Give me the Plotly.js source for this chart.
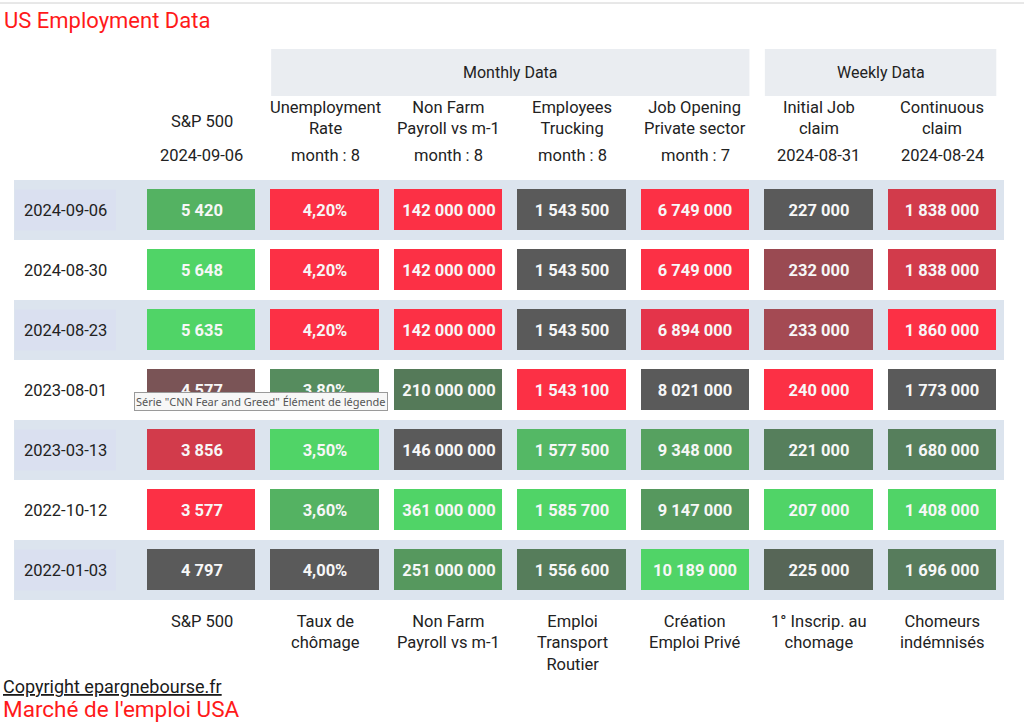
<!DOCTYPE html>
<html>
<head>
<meta charset="utf-8">
<script src="https://cdn.plot.ly/plotly-3.0.1.min.js"></script>
<style>html,body{margin:0;padding:0;background:#fff;}#chart{width:1024px;height:727px;}</style>
</head>
<body>
<div id="chart"></div>
<script>
// ---------- DATA ----------
const dates = ['2024-09-06','2024-08-30','2024-08-23','2023-08-01','2023-03-13','2022-10-12','2022-01-03'];
const columns = ['S&P 500','Unemployment Rate','Non Farm Payroll vs m-1','Employees Trucking','Job Opening Private sector','Initial Job claim','Continuous claim'];
const headerLabels = ['S&P 500','Unemployment<br>Rate','Non Farm<br>Payroll vs m-1','Employees<br>Trucking','Job Opening<br>Private sector','Initial Job<br>claim','Continuous<br>claim'];
const headerPeriods = ['2024-09-06','month : 8','month : 8','month : 8','month : 7','2024-08-31','2024-08-24'];
const footerLabels = ['S&P 500','Taux de<br>chômage','Non Farm<br>Payroll vs m-1','Emploi<br>Transport<br>Routier','Création<br>Emploi Privé','1° Inscrip. au<br>chomage','Chomeurs<br>indémnisés'];
const groupNames = ['Monthly Data','Weekly Data'];
const groupFirstCol = [1, 5];
const groupLastCol = [4, 6];

const sp500 = [5420, 5648, 5635, 4577, 3856, 3577, 4797];
const unemploymentRate = [4.20, 4.20, 4.20, 3.80, 3.50, 3.60, 4.00];
const nonFarmPayroll = [142000000, 142000000, 142000000, 210000000, 146000000, 361000000, 251000000];
const employeesTrucking = [1543500, 1543500, 1543500, 1543100, 1577500, 1585700, 1556600];
const jobOpening = [6749000, 6749000, 6894000, 8021000, 9348000, 9147000, 10189000];
const initialClaims = [227000, 232000, 233000, 240000, 221000, 207000, 225000];
const continuousClaims = [1838000, 1838000, 1860000, 1773000, 1680000, 1408000, 1696000];

const titleText = 'US Employment Data';
const copyrightText = 'Copyright epargnebourse.fr';
const subtitleText = "Marché de l'emploi USA";
const tooltipText = 'Série "CNN Fear and Greed" Élément de légende';

// ---------- STYLES ----------
const RED = '#fc3045', CRIMSON = '#d23b4b', GRAY = '#5a5a5a';
const GB = '#50d467', GM = '#54b262', GD = '#567d5b';
const cellColors = [
  [GM, RED, RED, GRAY, RED, GRAY, CRIMSON],
  [GB, RED, RED, GRAY, RED, '#9a4a52', CRIMSON],
  [GB, RED, RED, GRAY, '#e4344a', '#a44a53', RED],
  ['#7a5456', '#568c5e', '#557a59', RED, GRAY, RED, GRAY],
  [CRIMSON, GB, GRAY, '#54b865', '#56a160', '#567f5c', '#567f5c'],
  [RED, GM, GB, GB, '#56985e', GB, GB],
  [GRAY, GRAY, '#56985e', GD, GB, '#576657', '#577c5c']
];
const FONT = 'Roboto, "Open Sans", sans-serif';
const TXT = '#222222';
const BAND = '#dce4ee', DATEBOX = '#dae0f0', HEADBOX = '#eaedf1';

// ---------- BUILD ----------
function fmtInt(v) { return String(Math.round(v)).replace(/\B(?=(\d{3})+(?!\d))/g, ' '); }
function fmtPct(v) { return v.toFixed(2).replace('.', ',') + '%'; }
const series = [sp500, unemploymentRate, nonFarmPayroll, employeesTrucking, jobOpening, initialClaims, continuousClaims];
const formatters = [fmtInt, fmtPct, fmtInt, fmtInt, fmtInt, fmtInt, fmtInt];

const palette = [];
cellColors.forEach(r => r.forEach(c => { if (palette.indexOf(c) < 0) palette.push(c); }));
const zIdx = cellColors.map(r => r.map(c => palette.indexOf(c)));
const colorscale = palette.map((c, i) => [palette.length > 1 ? i / (palette.length - 1) : 0, c]);
const cellText = dates.map((d, ri) => columns.map((c, ci) => formatters[ci](series[ci][ri])));

const L = 140, R = 20, T = 180, B = 127, W = 1024, H = 727;
const pw = W - L - R, ph = H - T - B;
const px2x = p => (p - L) / pw;
const py2y = p => (T + ph - p) / ph;
const half = 0.4375;

const trace = {
  type: 'heatmap',
  x: columns, y: dates, z: zIdx,
  text: cellText, texttemplate: '<b>%{text}</b>',
  textfont: { family: FONT, size: 16.5, color: '#f7f7f7' },
  colorscale: colorscale, zmin: 0, zmax: palette.length - 1,
  showscale: false, xgap: 15, ygap: 19, hoverinfo: 'skip'
};

const shapes = [];
const annotations = [];
// Excel top line
shapes.push({ type: 'line', xref: 'paper', yref: 'paper', x0: px2x(0), x1: px2x(W), y0: py2y(3), y1: py2y(3), line: { color: '#d0d0d0', width: 1 } });
// row bands and date boxes
dates.forEach((d, i) => {
  if (i % 2 === 0) {
    shapes.push({ type: 'rect', layer: 'below', xref: 'paper', yref: 'y', x0: px2x(14), x1: 1, y0: i - 0.5, y1: i + 0.5, fillcolor: BAND, line: { width: 0 } });
    shapes.push({ type: 'rect', layer: 'below', xref: 'paper', yref: 'y', x0: px2x(15), x1: px2x(116), y0: i - 0.342, y1: i + 0.342, fillcolor: DATEBOX, line: { width: 0 } });
  }
  annotations.push({ xref: 'paper', yref: 'y', x: px2x(65), y: d, text: d, showarrow: false, xanchor: 'center', yanchor: 'middle', font: { family: FONT, size: 16.5, color: TXT } });
});
// group header boxes
groupNames.forEach((g, k) => {
  shapes.push({ type: 'rect', layer: 'below', xref: 'x', yref: 'paper', x0: groupFirstCol[k] - half, x1: groupLastCol[k] + half, y0: py2y(96), y1: py2y(49), fillcolor: HEADBOX, line: { width: 0 } });
  annotations.push({ xref: 'x', yref: 'paper', x: (groupFirstCol[k] + groupLastCol[k]) / 2, y: py2y(72.5), text: g, showarrow: false, xanchor: 'center', yanchor: 'middle', font: { family: FONT, size: 16, color: TXT } });
});
// column headers & footers
columns.forEach((c, i) => {
  annotations.push({ xref: 'x', yref: 'paper', x: c, y: py2y(i === 0 ? 121 : 118), text: headerLabels[i], showarrow: false, xanchor: 'center', yanchor: 'middle', font: { family: FONT, size: 16.5, color: TXT } });
  annotations.push({ xref: 'x', yref: 'paper', x: c, y: py2y(155.5), text: headerPeriods[i], showarrow: false, xanchor: 'center', yanchor: 'middle', font: { family: FONT, size: 16.5, color: TXT } });
  annotations.push({ xref: 'x', yref: 'paper', x: c, y: py2y(610), text: footerLabels[i], showarrow: false, xanchor: 'center', yanchor: 'top', font: { family: FONT, size: 16.5, color: TXT } });
});
// footer texts
annotations.push({ xref: 'paper', yref: 'paper', x: px2x(1), y: py2y(686), text: '<u>' + copyrightText + '</u>', showarrow: false, xanchor: 'left', yanchor: 'middle', font: { family: FONT, size: 18, color: '#1a1a1a' } });
annotations.push({ xref: 'paper', yref: 'paper', x: px2x(1), y: py2y(709), text: subtitleText, showarrow: false, xanchor: 'left', yanchor: 'middle', font: { family: FONT, size: 22.5, color: '#ff1a1a' } });
// tooltip artefact
annotations.push({ xref: 'paper', yref: 'paper', x: px2x(134), y: py2y(401.5), text: tooltipText, showarrow: false, xanchor: 'left', yanchor: 'middle', bgcolor: '#f7f7f7', bordercolor: '#9a9a9a', borderwidth: 1, borderpad: 1, font: { family: '"Noto Sans", sans-serif', size: 11, color: '#555555' } });

const layout = {
  width: W, height: H,
  margin: { l: L, r: R, t: T, b: B, pad: 0 },
  paper_bgcolor: '#ffffff', plot_bgcolor: 'rgba(0,0,0,0)',
  title: { text: titleText, x: 4 / W, xanchor: 'left', xref: 'container', yref: 'container', y: 1 - 20 / H, yanchor: 'middle', font: { family: FONT, size: 22, color: '#ff1a1a' } },
  xaxis: { type: 'category', categoryorder: 'array', categoryarray: columns, range: [-0.5, columns.length - 0.5], showticklabels: false, showgrid: false, zeroline: false, showline: false, ticks: '', fixedrange: true },
  yaxis: { type: 'category', categoryorder: 'array', categoryarray: dates, range: [dates.length - 0.5, -0.5], showticklabels: false, showgrid: false, zeroline: false, showline: false, ticks: '', fixedrange: true },
  shapes: shapes, annotations: annotations, showlegend: false
};

Plotly.newPlot('chart', [trace], layout, { displayModeBar: false, staticPlot: true });
</script>
</body>
</html>
